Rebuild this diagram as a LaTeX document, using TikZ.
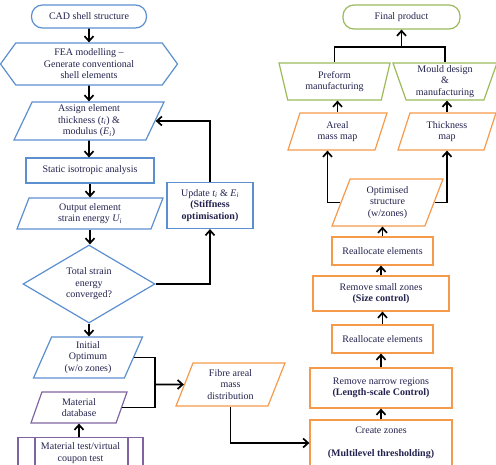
\documentclass[tikz,border=0pt]{standalone}
\usepackage{fontspec}
\setmainfont{Liberation Serif}
\usetikzlibrary{positioning,arrows.meta,shapes.geometric,shapes.symbols}

\definecolor{lineblue}{HTML}{5B8FCF}
\definecolor{lineorange}{HTML}{F59A4A}
\definecolor{linegreen}{HTML}{9BBB59}
\definecolor{linepurple}{HTML}{8064A2}
\definecolor{txtnavy}{HTML}{22224F}

\begin{document}
\begin{tikzpicture}[
    x=1pt, y=-1pt,
    every node/.style={font=\fontsize{10}{11.5}\selectfont, text=txtnavy, align=center, inner sep=1pt},
    box/.style={rectangle, draw=#1, line width=1.2pt},
    startstop/.style={rectangle, rounded corners=11pt, draw=#1, line width=1.2pt},
    hexbox/.style={signal, signal to=west and east, signal pointer angle=108, draw=#1, line width=1.2pt},
    io/.style={trapezium, trapezium left angle=62, trapezium right angle=118, trapezium stretches body, draw=#1, line width=1.2pt},
    manuf/.style={trapezium, trapezium left angle=111, trapezium right angle=111, trapezium stretches body, draw=#1, line width=1.2pt},
    decision/.style={diamond, draw=#1, line width=1.2pt, inner sep=0pt},
    predef/.style={rectangle, draw=#1, line width=1.2pt, path picture={
        \draw[#1, line width=1.2pt] ([xshift=17pt]path picture bounding box.north west) -- ([xshift=17pt]path picture bounding box.south west)
          ([xshift=-15pt]path picture bounding box.north east) -- ([xshift=-15pt]path picture bounding box.south east);}},
    arr/.style={-{Straight Barb[length=5pt,width=9pt]}, line width=1.7pt},
    link/.style={line width=1.7pt}
]
\useasboundingbox (0,0) rectangle (496,465);

% stiffness optimisation loop
\node[startstop=lineblue, minimum width=115pt, minimum height=23pt] (cad) at (89,16.5) {CAD shell structure};
\node[hexbox=lineblue, minimum width=177pt, minimum height=42pt] (fea) at (89,64) {FEA modelling --\\Generate conventional\\shell elements};
\node[io=lineblue, minimum width=150pt, minimum height=38pt] (assign) at (89,121) {Assign element\\thickness (\textit{t\textsubscript{i}}) \&\\modulus (\textit{E\textsubscript{i}})};
\node[box=lineblue, minimum width=128pt, minimum height=25pt] (static) at (90,170.5) {Static isotropic analysis};
\node[io=lineblue, minimum width=146pt, minimum height=31pt] (output) at (90,213.5) {Output element\\strain energy \textit{U\textsubscript{i}}};
\node[decision=lineblue, minimum width=132pt, minimum height=78pt] (conv) at (89,284) {Total strain\\energy\\converged?};
\node[box=lineblue, minimum width=86pt, minimum height=46pt] (update) at (210,205.5) {Update \textit{t\textsubscript{i}} \& \textit{E\textsubscript{i}}\\\textbf{(Stiffness}\\\textbf{optimisation)}};
\node[io=lineblue, minimum width=109pt, minimum height=41pt] (initial) at (88,357.5) {Initial\\Optimum\\(w/o zones)};
\node[io=linepurple, minimum width=96pt, minimum height=31pt] (matdb) at (79,407.5) {Material\\database};
\node[predef=linepurple, minimum width=125pt, minimum height=31pt] (mattest) at (80.5,453) {Material test/virtual\\coupon test};
\node[io=lineorange, minimum width=109pt, minimum height=43pt] (fibre) at (230.5,384.5) {Fibre areal\\mass\\distribution};
\coordinate (join) at (155,384.5);

% size and length-scale control
\node[box=lineorange, minimum width=142pt, minimum height=46pt] (zones) at (381,443) {Create zones\\[11.5pt]\textbf{(Multilevel thresholding)}};
\node[box=lineorange, minimum width=142pt, minimum height=40pt] (narrow) at (381,388) {Remove narrow regions\\\textbf{(Length-scale Control)}};
\node[box=lineorange, minimum width=101pt, minimum height=28pt] (realloca) at (382.5,339) {Reallocate elements};
\node[box=lineorange, minimum width=136pt, minimum height=35pt] (small) at (381,293.5) {Remove small zones\\\textbf{(Size control)}};
\node[box=lineorange, minimum width=101pt, minimum height=28pt] (reallocb) at (382.5,251) {Reallocate elements};
\node[io=lineorange, minimum width=111pt, minimum height=47pt] (optim) at (387.5,202.5) {Optimised\\structure\\(w/zones)};
\node[io=lineorange, minimum width=99pt, minimum height=37pt] (areal) at (337.5,131.5) {Areal\\mass map};
\node[io=lineorange, minimum width=98pt, minimum height=37pt] (thick) at (447,131.5) {Thickness\\map};
\node[manuf=linegreen, minimum width=111pt, minimum height=37pt] (preform) at (334.5,81.5) {Preform\\manufacturing};
\node[manuf=linegreen, minimum width=104pt, minimum height=37pt] (mould) at (445,81.5) {Mould design\\\&\\manufacturing};
\node[startstop=linegreen, minimum width=117pt, minimum height=24pt] (final) at (401.5,17) {Final product};
\coordinate (merge) at (401.5,47);

\draw[arr] (cad) -- (fea);
\draw[arr] (fea) -- (assign);
\draw[arr] (assign) -- (assign.south |- static.north);
\draw[arr] (static.south) -- (static.south |- output.north);
\draw[arr] (output.south) -- (output.south |- conv.north);
\draw[arr] (conv) -- (conv.south |- initial.north);
\draw[arr] (conv.east) -| (update.south);
\draw[arr] (update.north) |- (assign.east);
\draw[link] (initial.east) -| (join);
\draw[link] (matdb.east) -| (join);
\draw[arr] (join) -- (fibre.west);
\draw[arr] (mattest.north -| matdb.south) -- (matdb.south);
\draw[arr] (fibre.south) |- (zones.west);

\draw[arr] (zones) -- (narrow);
\draw[arr] (narrow.north) -- (narrow.north |- realloca.south);
\draw[arr] (realloca) -- (realloca.north |- small.south);
\draw[arr] (small.north) -- (small.north |- reallocb.south);
\draw[arr] (reallocb.north) -- (reallocb.north |- optim.south);
\draw[arr] (optim.west) -| ([xshift=-10pt]areal.south);
\draw[arr] (optim.east) -| (thick.south);
\draw[arr] (areal.north) -- (areal.north |- preform.south);
\draw[arr] (thick.north) -- (thick.north |- mould.south);
\draw[link] (preform.north) |- (merge) -| (mould.north);
\draw[arr] (merge) -- (final.south);

\end{tikzpicture}
\end{document}
